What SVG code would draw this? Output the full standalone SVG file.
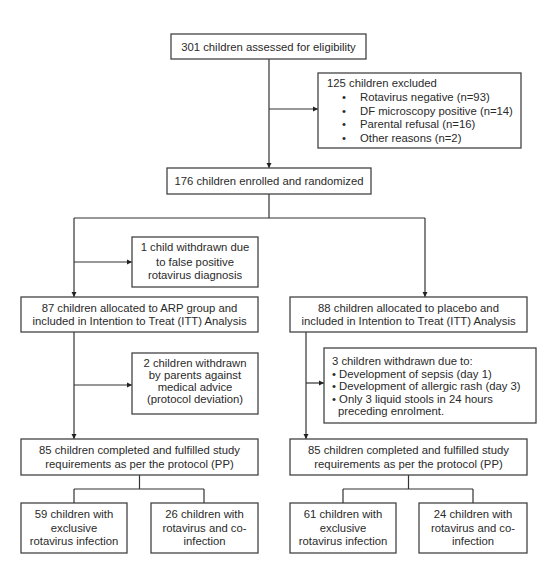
<svg xmlns="http://www.w3.org/2000/svg" width="547" height="563" viewBox="0 0 547 563">
<style>
.box{fill:#fff;stroke:#444;stroke-width:1.3}
.ln{fill:none;stroke:#333;stroke-width:1.2}
.arr{marker-end:url(#ah)}
text{font-family:"Liberation Sans",Arial,sans-serif;font-size:11.3px;fill:#2a2a2a}
.c{text-anchor:middle}
</style>
<defs>
<marker id="ah" markerWidth="6" markerHeight="6" refX="5" refY="3" orient="auto" markerUnits="userSpaceOnUse">
<path d="M0,0.5 L5,3 L0,5.5 Z" fill="#222"/>
</marker>
</defs>
<rect width="547" height="563" fill="#fff"/>
<g id="connectors">
<path class="ln arr" d="M269,59 V168"/>
<path class="ln arr" d="M269,109 H318"/>
<path class="ln" d="M269,194 V218 M74,218 H425"/>
<path class="ln arr" d="M74,218 V297"/>
<path class="ln arr" d="M425,218 V297"/>
<path class="ln arr" d="M74,262 H132"/>
<path class="ln arr" d="M74,332 V439"/>
<path class="ln arr" d="M74,385 H132"/>
<path class="ln arr" d="M306,332 V439"/>
<path class="ln arr" d="M306,383 H324"/>
<path class="ln" d="M139.5,475 V489 M74,489 H204 M74,489 V503 M204,489 V503"/>
<path class="ln" d="M408.5,475 V489 M343,489 H473 M343,489 V503 M473,489 V503"/>
</g>
<g id="assessed">
<rect class="box" x="171" y="34" width="195" height="25"/>
<text class="c" x="268.5" y="50.5">301 children assessed for eligibility</text>
</g>
<g id="excluded">
<rect class="box" x="318" y="73" width="203" height="75"/>
<text x="327" y="87">125 children excluded</text>
<text x="342" y="100.5">•</text><text x="360" y="100.5">Rotavirus negative (n=93)</text>
<text x="342" y="114.5">•</text><text x="360" y="114.5">DF microscopy positive (n=14)</text>
<text x="342" y="128">•</text><text x="360" y="128">Parental refusal (n=16)</text>
<text x="342" y="142">•</text><text x="360" y="142">Other reasons (n=2)</text>
</g>
<g id="randomized">
<rect class="box" x="167" y="168" width="204" height="26"/>
<text class="c" x="269" y="185">176 children enrolled and randomized</text>
</g>
<g id="withdrawn1">
<rect class="box" x="132" y="237" width="126" height="50"/>
<text class="c" x="195" y="251">1 child withdrawn due</text>
<text class="c" x="195" y="266">to false positive</text>
<text class="c" x="195" y="278.5">rotavirus diagnosis</text>
</g>
<g id="arp">
<rect class="box" x="21" y="297" width="237" height="35"/>
<text class="c" x="139.5" y="312">87 children allocated to ARP group and</text>
<text class="c" x="139.5" y="325">included in Intention to Treat (ITT) Analysis</text>
</g>
<g id="placebo">
<rect class="box" x="290" y="297" width="237" height="35"/>
<text class="c" x="408.5" y="312">88 children allocated to placebo and</text>
<text class="c" x="408.5" y="325">included in Intention to Treat (ITT) Analysis</text>
</g>
<g id="withdrawn2">
<rect class="box" x="132" y="353" width="126" height="61"/>
<text class="c" x="195" y="367">2 children withdrawn</text>
<text class="c" x="195" y="379">by parents against</text>
<text class="c" x="195" y="390.5">medical advice</text>
<text class="c" x="195" y="402.5">(protocol deviation)</text>
</g>
<g id="withdrawn3">
<rect class="box" x="324" y="348" width="212" height="75"/>
<text x="332" y="365">3 children withdrawn due to:</text>
<text x="332" y="377.5">• Development of sepsis (day 1)</text>
<text x="332" y="390">• Development of allergic rash (day 3)</text>
<text x="332" y="402.5">• Only 3 liquid stools in 24 hours</text>
<text x="338" y="415">preceding enrolment.</text>
</g>
<g id="pp-arp">
<rect class="box" x="21" y="439" width="237" height="36"/>
<text class="c" x="139.5" y="454">85 children completed and fulfilled study</text>
<text class="c" x="139.5" y="468">requirements as per the protocol (PP)</text>
</g>
<g id="pp-placebo">
<rect class="box" x="290" y="439" width="237" height="36"/>
<text class="c" x="408.5" y="454">85 children completed and fulfilled study</text>
<text class="c" x="408.5" y="468">requirements as per the protocol (PP)</text>
</g>
<g id="arp-exclusive">
<rect class="box" x="21" y="503" width="106" height="50"/>
<text class="c" x="74" y="518">59 children with</text>
<text class="c" x="74" y="531.5">exclusive</text>
<text class="c" x="74" y="545">rotavirus infection</text>
</g>
<g id="arp-coinfection">
<rect class="box" x="151" y="503" width="107" height="50"/>
<text class="c" x="204.5" y="518">26 children with</text>
<text class="c" x="204.5" y="531.5">rotavirus and co-</text>
<text class="c" x="204.5" y="545">infection</text>
</g>
<g id="placebo-exclusive">
<rect class="box" x="290" y="503" width="106" height="50"/>
<text class="c" x="343" y="518">61 children with</text>
<text class="c" x="343" y="531.5">exclusive</text>
<text class="c" x="343" y="545">rotavirus infection</text>
</g>
<g id="placebo-coinfection">
<rect class="box" x="419" y="503" width="108" height="50"/>
<text class="c" x="473" y="518">24 children with</text>
<text class="c" x="473" y="531.5">rotavirus and co-</text>
<text class="c" x="473" y="545">infection</text>
</g>
</svg>
